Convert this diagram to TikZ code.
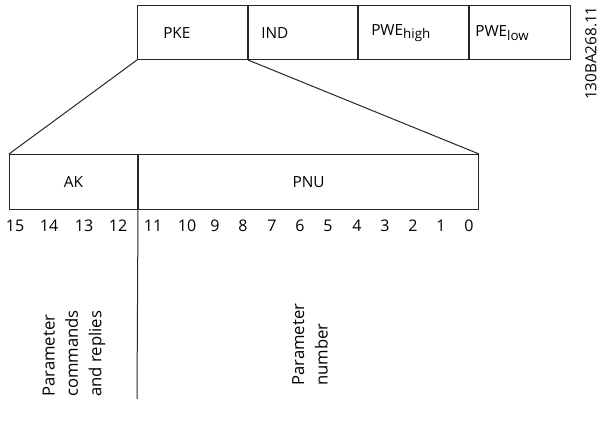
\documentclass[tikz,border=0pt]{standalone}
\usepackage{fontspec}
\setmainfont{Open Sans}

\begin{document}
\begin{tikzpicture}[x=0.75pt,y=-0.75pt,font=\fontsize{11.5}{13}\selectfont,
  field/.style={draw=black!85,line width=0.75pt,inner sep=0pt,anchor=north west},
  lbl/.style={inner sep=0pt},
  num/.style={inner sep=0pt,font=\fontsize{12}{14}\selectfont},
  vtxt/.style={rotate=90,anchor=west,align=left,inner sep=0pt,
    font=\fontsize{12.5}{17.5}\selectfont},
  ln/.style={draw=black!85,line width=0.75pt},
]
\def\pxu{0.75pt}
\newcommand{\lowsub}[1]{\raisebox{-0.45ex}{\fontsize{10}{11}\selectfont #1}}

\useasboundingbox (0,0) rectangle (604,427);

% ============================================================
% Telegram word: PKE, IND, PWE
% ============================================================
\node[field,minimum width=110*\pxu,minimum height=54*\pxu] (pke) at (137,5) {};
\node[field,minimum width=109*\pxu,minimum height=54*\pxu] (ind) at (pke.north east) {};
\node[field,minimum width=110*\pxu,minimum height=54*\pxu] (pwehi) at (ind.north east) {};
\node[field,minimum width=101*\pxu,minimum height=54*\pxu] (pwelo) at (pwehi.north east) {};

\node[lbl,anchor=west] (lpke) at (163,33) {PKE};
\node[lbl,anchor=west] (lind) at (261,33) {IND};
\node[lbl,anchor=west] (lpwehi) at (371,33) {PWE\lowsub{high}};
\node[lbl,anchor=west] (lpwelo) at (475,33) {PWE\lowsub{low}};

% Drawing number
\node[lbl,rotate=90,anchor=east] (dwg) at (591,6) {130BA268.11};

% ============================================================
% PKE split into AK and PNU
% ============================================================
\node[field,minimum width=128*\pxu,minimum height=55*\pxu] (ak) at (9,154) {};
\node[field,minimum width=340*\pxu,minimum height=55*\pxu] (pnu) at (ak.north east) {};

\node[lbl] (lak) at (ak.center) {AK};
\node[lbl] (lpnu) at (pnu.center) {PNU};

% Expansion lines
\draw[ln] (pke.south west) -- (ak.north west);
\draw[ln] (ind.south west) -- (pnu.north east);

% Divider between AK and PNU, running down
\coordinate (divend) at (137,399);
\draw[ln] (ak.south east) -- (divend);

% Bit numbers
\foreach \n/\x in {15/15,14/49,13/84,12/118,11/153,10/187,9/215,8/243,
                   7/272,6/300,5/328,4/357,3/385,2/413,1/441,0/469}
  \node[num] (bit\n) at (\x,226) {\n};

% Descriptions
\node[vtxt] (dak) at (74,397) {Parameter\\commands\\and replies};
\node[vtxt] (dpnu) at (310,386) {Parameter\\number};

\end{tikzpicture}
\end{document}
